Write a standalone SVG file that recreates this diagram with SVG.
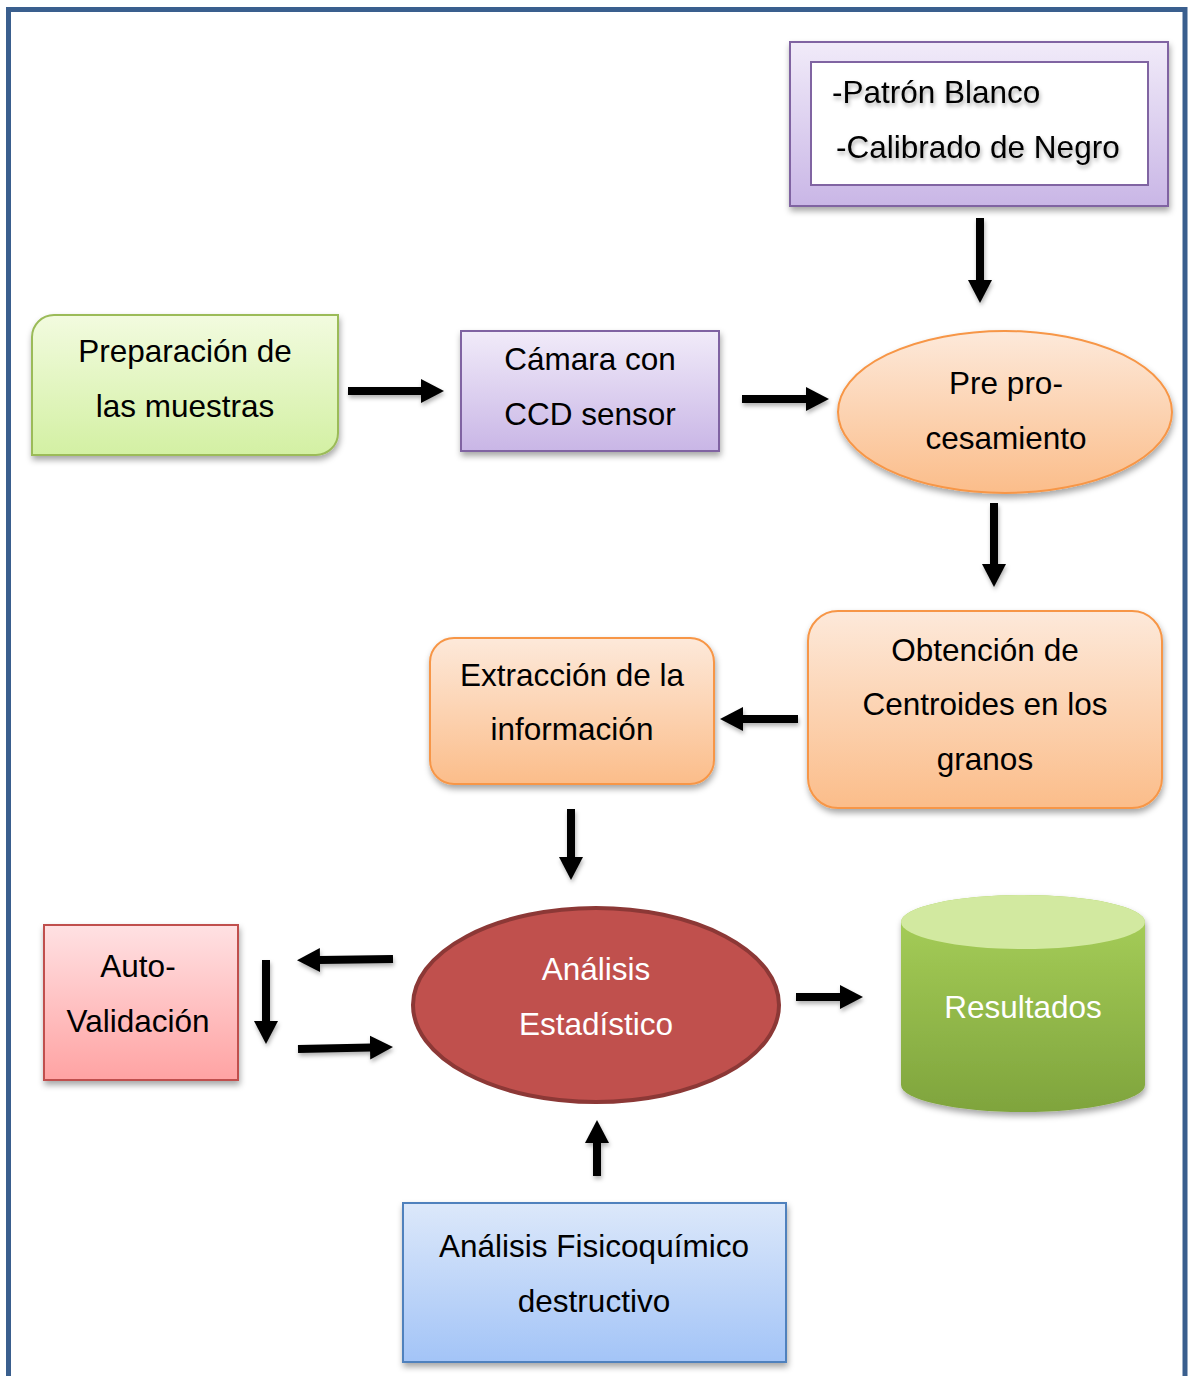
<svg xmlns="http://www.w3.org/2000/svg" width="1188" height="1376" viewBox="0 0 1188 1376">
<style>
  text { font-family: "Liberation Sans", Arial, sans-serif; font-size: 31.5px; fill: #000; text-anchor: middle; }
  .w { fill: #fff; }
  .arr { stroke: #000; stroke-width: 8; fill: none; marker-end: url(#head); }
</style>
<defs>
  <filter id="sh" x="-10%" y="-10%" width="125%" height="130%">
    <feDropShadow dx="1" dy="4" stdDeviation="3" flood-color="#000" flood-opacity="0.35"/>
  </filter>
  <filter id="ash" filterUnits="userSpaceOnUse" x="0" y="0" width="1188" height="1376">
    <feDropShadow dx="1" dy="3" stdDeviation="2" flood-color="#000" flood-opacity="0.3"/>
  </filter>
  <filter id="tsh" x="-10%" y="-20%" width="120%" height="150%">
    <feDropShadow dx="1" dy="3" stdDeviation="2" flood-color="#000" flood-opacity="0.35"/>
  </filter>
  <marker id="head" markerUnits="userSpaceOnUse" markerWidth="24" markerHeight="24" refX="1" refY="12" orient="auto">
    <path d="M0,0 L23,12 L0,24 Z" fill="#000"/>
  </marker>
  <linearGradient id="gPurple" x1="0" y1="0" x2="0" y2="1">
    <stop offset="0" stop-color="#f1ebf9"/>
    <stop offset="1" stop-color="#c9b6e6"/>
  </linearGradient>
  <linearGradient id="gGreen" x1="0" y1="0" x2="0" y2="1">
    <stop offset="0" stop-color="#f2fbdf"/>
    <stop offset="1" stop-color="#d3f0a3"/>
  </linearGradient>
  <linearGradient id="gOrange" x1="0" y1="0" x2="0" y2="1">
    <stop offset="0" stop-color="#fde9da"/>
    <stop offset="1" stop-color="#fbbd8a"/>
  </linearGradient>
  <linearGradient id="gRed" x1="0" y1="0" x2="0" y2="1">
    <stop offset="0" stop-color="#ffe1e3"/>
    <stop offset="1" stop-color="#ffa3a3"/>
  </linearGradient>
  <linearGradient id="gBlue" x1="0" y1="0" x2="0" y2="1">
    <stop offset="0" stop-color="#dce8fa"/>
    <stop offset="1" stop-color="#a3c4f7"/>
  </linearGradient>
  <linearGradient id="gCyl" x1="0" y1="0" x2="0" y2="1">
    <stop offset="0" stop-color="#a9d15a"/>
    <stop offset="1" stop-color="#7fa43d"/>
  </linearGradient>
</defs>

<rect x="8.5" y="9.5" width="1176.5" height="1380" fill="#fff" stroke="#3a5f8e" stroke-width="5"/>

<g id="calibracion">
  <rect x="790" y="42" width="378" height="164" fill="url(#gPurple)" stroke="#8064a2" stroke-width="2" filter="url(#sh)"/>
  <rect x="811" y="62" width="337" height="123" fill="#fff" stroke="#8064a2" stroke-width="2"/>
  <text x="832" y="103" style="text-anchor:start" filter="url(#tsh)">-Patrón Blanco</text>
  <text x="836" y="158" style="text-anchor:start" filter="url(#tsh)">-Calibrado de Negro</text>
</g>

<g id="preparacion">
  <path d="M54,315 H338 V433 A22,22 0 0 1 316,455 H32 V337 A22,22 0 0 1 54,315 Z" fill="url(#gGreen)" stroke="#9bbb59" stroke-width="2" filter="url(#sh)"/>
  <text x="185" y="362">Preparación de</text>
  <text x="185" y="417">las muestras</text>
</g>

<g id="camara">
  <rect x="461" y="331" width="258" height="120" fill="url(#gPurple)" stroke="#8064a2" stroke-width="2" filter="url(#sh)"/>
  <text x="590" y="370">Cámara con</text>
  <text x="590" y="425">CCD sensor</text>
</g>

<g id="preprocesamiento">
  <ellipse cx="1005" cy="412" rx="167" ry="81" fill="url(#gOrange)" stroke="#f79646" stroke-width="2" filter="url(#sh)"/>
  <text x="1006" y="394">Pre pro-</text>
  <text x="1006" y="449">cesamiento</text>
</g>

<g id="obtencion">
  <rect x="808" y="611" width="354" height="197" rx="30" ry="30" fill="url(#gOrange)" stroke="#f79646" stroke-width="2" filter="url(#sh)"/>
  <text x="985" y="661">Obtención de</text>
  <text x="985" y="715">Centroides en los</text>
  <text x="985" y="770">granos</text>
</g>

<g id="extraccion">
  <rect x="430" y="638" width="284" height="146" rx="24" ry="24" fill="url(#gOrange)" stroke="#f79646" stroke-width="2" filter="url(#sh)"/>
  <text x="572" y="686">Extracción de la</text>
  <text x="572" y="740">información</text>
</g>

<g id="analisis-estadistico">
  <ellipse cx="596" cy="1005" rx="183" ry="97" fill="#c0504d" stroke="#8c3836" stroke-width="4"/>
  <text class="w" x="596" y="980">Análisis</text>
  <text class="w" x="596" y="1035">Estadístico</text>
</g>

<g id="resultados">
  <path d="M901,922 V1085 A122,27 0 0 0 1145,1085 V922 A122,27 0 0 0 901,922 Z" fill="url(#gCyl)" filter="url(#sh)"/>
  <ellipse cx="1023" cy="922" rx="122" ry="27" fill="#d2e9a0"/>
  <text class="w" x="1023" y="1018">Resultados</text>
</g>

<g id="autovalidacion">
  <rect x="44" y="925" width="194" height="155" fill="url(#gRed)" stroke="#c0504d" stroke-width="2" filter="url(#sh)"/>
  <text x="138" y="977">Auto-</text>
  <text x="138" y="1032">Validación</text>
</g>

<g id="fisicoquimico">
  <rect x="403" y="1203" width="383" height="159" fill="url(#gBlue)" stroke="#4f81bd" stroke-width="2" filter="url(#sh)"/>
  <text x="594" y="1257">Análisis Fisicoquímico</text>
  <text x="594" y="1312">destructivo</text>
</g>

<g id="connectors" filter="url(#ash)">
  <line class="arr" x1="980" y1="218" x2="980" y2="281"/>
  <line class="arr" x1="348" y1="391" x2="422" y2="391"/>
  <line class="arr" x1="742" y1="399" x2="807" y2="399"/>
  <line class="arr" x1="994" y1="503" x2="994" y2="565"/>
  <line class="arr" x1="798" y1="719" x2="742" y2="719"/>
  <line class="arr" x1="571" y1="809" x2="571" y2="858"/>
  <line class="arr" x1="393" y1="959" x2="319" y2="960"/>
  <line class="arr" x1="266" y1="960" x2="266" y2="1022"/>
  <line class="arr" x1="298" y1="1049" x2="371" y2="1047.5"/>
  <line class="arr" x1="796" y1="997" x2="841" y2="997"/>
  <line class="arr" x1="597" y1="1176" x2="597" y2="1142"/>
</g>
</svg>
